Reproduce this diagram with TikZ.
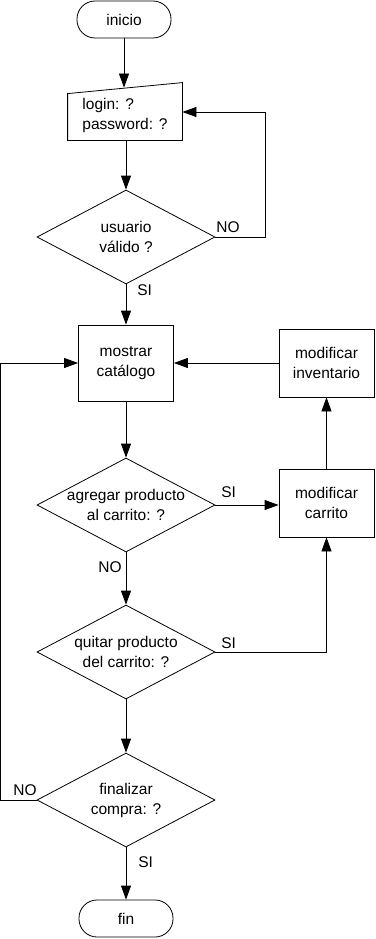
\documentclass[tikz,border=0pt]{standalone}
\usepackage{fontspec}
\setmainfont{Liberation Sans}
\usetikzlibrary{arrows.meta,shapes.geometric,calc}

\begin{document}
\begin{tikzpicture}[x=1pt, y=-1pt, font=\fontsize{15.5}{20}\selectfont, line width=0.8pt,
    >={Triangle[length=14pt,width=10pt]},
    term/.style={draw, rounded corners=18pt, minimum width=94pt, minimum height=37pt, inner sep=0pt},
    box/.style={draw, minimum width=95pt, align=center, inner sep=0pt},
    dia/.style={draw, diamond, minimum width=178pt, minimum height=94pt, inner sep=0pt},
    lbl/.style={inner sep=0pt}]
      \useasboundingbox (0,0) rectangle (375,939);
      % nodes
      \node[term] (ini) at (124,19.5) {inicio};
      \node[minimum width=114pt, minimum height=50pt, align=left, inner sep=0pt] (login) at (125,115) {login: ?\\password: ?};
      \draw (login.south west) -- (login.south east) -- ([yshift=7pt]login.north east) -- ([yshift=-4pt]login.north west) -- cycle;
      \node[dia, label={[align=center]center:usuario\\válido ?}] (val) at (126,237) {};
      \node[box, minimum height=76pt] (cat) at (126,363) {mostrar\\catálogo};
      \node[box, minimum height=68pt] (inv) at (326.5,363) {modificar\\inventario};
      \node[dia, label={[align=center]center:agregar producto\\al carrito: ?}] (agr) at (126,505) {};
      \node[box, minimum height=68pt] (car) at (326.5,503) {modificar\\carrito};
      \node[dia, label={[align=center]center:quitar producto\\del carrito: ?}] (qui) at (126,652) {};
      \node[dia, label={[align=center]center:finalizar\\compra: ?}] (fina) at (126,800) {};
      \node[term] (fin) at (126,918.5) {fin};
      % labels
      \node[lbl, anchor=west] (no1) at (216,227) {NO};
      \node[lbl, anchor=west] (si1) at (137,290) {SI};
      \node[lbl, anchor=west] (si2) at (221,492) {SI};
      \node[lbl, anchor=east] (no2) at (122,567) {NO};
      \node[lbl, anchor=west] (si3) at (221,643) {SI};
      \node[lbl, anchor=east] (no4) at (37,790) {NO};
      \node[lbl, anchor=west] (si4) at (138,862) {SI};
      % connectors
      \draw[->] (ini) -- ($(ini |- login.north)+(0,-2)$);
      \draw[->] (val.north |- login.south) -- (val.north);
      \draw[->] (val.east) -- ++(50,0) |- ([yshift=3pt]login.east);
      \draw[->] (val.south) -- (cat.north);
      \draw[->] (inv) -- (cat);
      \draw[->] (cat) -- (agr);
      \draw[->] (agr.east) -- (agr.east -| car.west);
      \draw[->] (car) -- (inv);
      \draw[->] (agr) -- (qui);
      \draw[->] (qui.east) -| (car.south);
      \draw[->] (qui) -- (fina);
      \draw[->] (fina.west) -- ++(-36,0) |- (cat.west);
      \draw[->] (fina) -- (fin);
\end{tikzpicture}
\end{document}
